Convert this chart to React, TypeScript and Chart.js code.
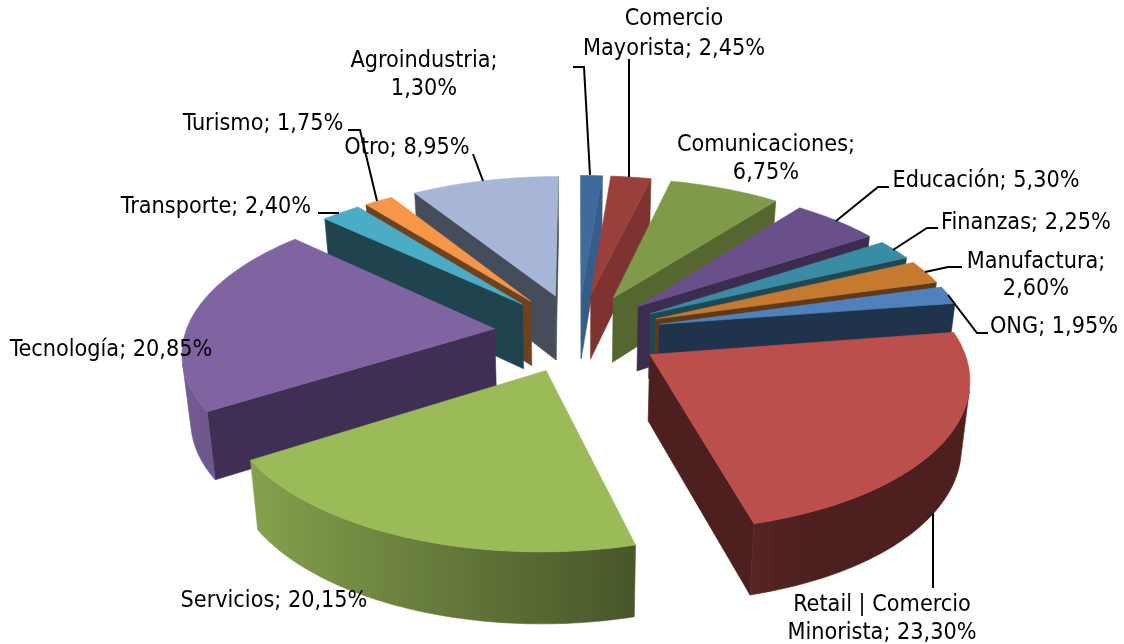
import React, { useEffect, useRef } from "react";
import { Chart, registerables } from "chart.js";

Chart.register(...registerables);

const categories = ["Agroindustria", "Comercio Mayorista", "Comunicaciones", "Educación", "Finanzas", "Manufactura", "ONG", "Retail | Comercio Minorista", "Servicios", "Tecnología", "Transporte", "Turismo", "Otro"];
const shares = [1.3, 2.45, 6.75, 5.3, 2.25, 2.6, 1.95, 23.3, 20.15, 20.85, 2.4, 1.75, 8.95];
const topColors = ["#3f6b9c", "#9b3f3d", "#7f9a48", "#69508a", "#398ca3", "#c67a30", "#4f81bd", "#bc4e4c", "#9bbb59", "#8064a2", "#4bacc6", "#f79646", "#a7b5d6"];
const sideColors = ["#365d88", "#7e3331", "#556631", "#3c2d50", "#1f4853", "#5f3a18", "#1f334c", "#4d1f1f", "#47552a", "#3f2f54", "#1f444f", "#6c4220", "#454c5a"];

const FONT = '23.2px "DejaVu Sans Condensed", "DejaVu Sans", sans-serif';
const view = { scaleX: 0.992, scaleY: 0.4655, persp: 0.137, explode: 0.272, wall: 65.5, wallPersp: 5.2, shrink: 0.978 };

// label placement: centre x, centre y of each line, number of words on the first line
const labelPlace = [
  { x: 424, ys: [61, 89], first: 1 },
  { x: 674, ys: [19, 49], first: 1 },
  { x: 766, ys: [145, 173], first: 1 },
  { x: 986, ys: [181] },
  { x: 1026, ys: [223] },
  { x: 1036, ys: [262, 289], first: 1 },
  { x: 1054, ys: [327] },
  { x: 882, ys: [605, 633], first: 3 },
  { x: 274, ys: [601] },
  { x: 111, ys: [350] },
  { x: 216, ys: [207] },
  { x: 263, ys: [124] },
  { x: 407, ys: [148] },
];
const leaderPaths = [
  [[573, 67], [584, 67], [590, 175]],
  [[629, 59], [629, 177]],
  [[473, 154], [483, 181]],
  [[889, 187], [878, 187], [836, 221]],
  [[938, 228], [927, 228], [893, 250]],
  [[962, 267], [948, 267], [925, 272]],
  [[988, 333], [977, 333], [948, 295]],
  [[933, 588], [933, 513]],
  [[318, 213], [339, 213]],
  [[348, 130], [360, 130], [377, 201]],
];

function shade(hex: string, f: number) {
  const n = parseInt(hex.slice(1), 16);
  const c = [(n >> 16) & 255, (n >> 8) & 255, n & 255].map((v) => Math.round(v * f));
  return `rgb(${c[0]},${c[1]},${c[2]})`;
}

function area(p: number[][]) {
  let s = 0;
  for (let i = 0; i < p.length; i++) {
    const a = p[i], b = p[(i + 1) % p.length];
    s += a[0] * b[1] - b[0] * a[1];
  }
  return s;
}

function fillPoly(ctx: CanvasRenderingContext2D, pts: number[][], color: any) {
  ctx.beginPath();
  pts.forEach((p, i) => (i ? ctx.lineTo(p[0], p[1]) : ctx.moveTo(p[0], p[1])));
  ctx.closePath();
  ctx.fillStyle = color;
  ctx.strokeStyle = color;
  ctx.lineWidth = 0.6;
  ctx.fill();
  ctx.stroke();
}

const pie3d = {
  id: "pie3d",
  beforeDatasetsDraw(chart: any) {
    const ctx: CanvasRenderingContext2D = chart.ctx;
    const arcs = chart.getDatasetMeta(0).data;
    const order = arcs
      .map((arc: any, i: number) => ({ arc, i, my: -Math.sin((arc.startAngle + arc.endAngle) / 2) }))
      .sort((a: any, b: any) => b.my - a.my);
    for (const { arc, i } of order) {
      const R = arc.outerRadius;
      const mid = (arc.startAngle + arc.endAngle) / 2;
      const ox = Math.cos(mid) * view.explode;
      const oy = -Math.sin(mid) * view.explode;
      const top = (mx: number, my: number) => {
        const w = 1 + view.persp * my;
        return [arc.x + (R * view.scaleX * mx) / w, arc.y - (R * view.scaleY * my) / w];
      };
      const bottom = (mx: number, my: number) => {
        const t = top(mx, my);
        return [arc.x + (t[0] - arc.x) * view.shrink, t[1] + view.wall - view.wallPersp * my];
      };
      const at = (a: number) => [ox + Math.cos(a), oy - Math.sin(a)];
      const steps = Math.max(2, Math.ceil(((arc.endAngle - arc.startAngle) * 180) / Math.PI));
      const angle = (k: number) => arc.startAngle + ((arc.endAngle - arc.startAngle) * k) / steps;

      const t0 = top(ox, oy), b0 = bottom(ox, oy);
      const p1 = at(arc.startAngle), p2 = at(arc.endAngle);
      const q1 = [t0, top(p1[0], p1[1]), bottom(p1[0], p1[1]), b0];
      const q2 = [top(p2[0], p2[1]), t0, b0, bottom(p2[0], p2[1])];
      if (area(q1) < 0) fillPoly(ctx, q1, sideColors[i]);
      if (area(q2) < 0) fillPoly(ctx, q2, sideColors[i]);

      // the visible part of the curved outer wall, as one polygon with a horizontal gradient
      const upper: number[][] = [];
      const lower: number[][] = [];
      const tones: { x: number; f: number }[] = [];
      const base = topColors[i];
      for (let k = 0; k < steps; k++) {
        const a = at(angle(k)), b = at(angle(k + 1));
        const quad = [top(a[0], a[1]), top(b[0], b[1]), bottom(b[0], b[1]), bottom(a[0], a[1])];
        if (area(quad) < 0) {
          if (!upper.length) {
            upper.push(quad[0]);
            lower.push(quad[3]);
          }
          upper.push(quad[1]);
          lower.push(quad[2]);
          const clock = (angle(k) + angle(k + 1)) / 2 + Math.PI / 2;
          tones.push({ x: (quad[0][0] + quad[1][0]) / 2, f: Math.max(0.41, 0.554 - 0.37 * Math.sin(clock)) });
        }
      }
      if (upper.length > 1) {
        const xs = tones.map((t) => t.x);
        const x0 = Math.min(...xs), x1 = Math.max(...xs);
        let paint: any = shade(base, tones[0].f);
        if (x1 - x0 > 1) {
          paint = ctx.createLinearGradient(x0, 0, x1, 0);
          tones
            .slice()
            .sort((p, q) => p.x - q.x)
            .forEach((t) => paint.addColorStop((t.x - x0) / (x1 - x0), shade(base, t.f)));
        }
        fillPoly(ctx, upper.concat(lower.slice().reverse()), paint);
      }

      const face = [t0];
      for (let k = 0; k <= steps; k++) {
        const a = at(angle(k));
        face.push(top(a[0], a[1]));
      }
      fillPoly(ctx, face, arc.options.backgroundColor);
    }
    return false;
  },
  afterDraw(chart: any) {
    const ctx: CanvasRenderingContext2D = chart.ctx;
    ctx.save();
    ctx.strokeStyle = "#000";
    ctx.lineWidth = 2;
    ctx.lineJoin = "miter";
    for (const path of leaderPaths) {
      ctx.beginPath();
      path.forEach((p, i) => (i ? ctx.lineTo(p[0], p[1]) : ctx.moveTo(p[0], p[1])));
      ctx.stroke();
    }
    ctx.fillStyle = "#000";
    ctx.font = FONT;
    ctx.textAlign = "center";
    ctx.textBaseline = "middle";
    categories.forEach((name, i) => {
      const text = `${name}; ${shares[i].toFixed(2).replace(".", ",")}%`;
      const place = labelPlace[i];
      if (place.ys.length === 1) {
        ctx.fillText(text, place.x, place.ys[0]);
      } else {
        const words = text.split(" ");
        ctx.fillText(words.slice(0, place.first).join(" "), place.x, place.ys[0]);
        ctx.fillText(words.slice(place.first).join(" "), place.x, place.ys[1]);
      }
    });
    ctx.restore();
  },
};

export default function App() {
  const ref = useRef<HTMLCanvasElement>(null);
  useEffect(() => {
    document.body.style.margin = "0";
    const chart = new Chart(ref.current!, {
      type: "pie",
      data: {
        labels: categories,
        datasets: [{ data: shares, backgroundColor: topColors, borderWidth: 0 }],
      },
      options: {
        animation: false,
        responsive: false,
        layout: { padding: { left: 32, top: 21, right: 0, bottom: 0 } },
        plugins: { legend: { display: false }, tooltip: { enabled: false } },
      },
      plugins: [pie3d],
    } as any);
    return () => chart.destroy();
  }, []);
  return <canvas ref={ref} width={1124} height={644} style={{ display: "block", background: "#fff" }} />;
}
